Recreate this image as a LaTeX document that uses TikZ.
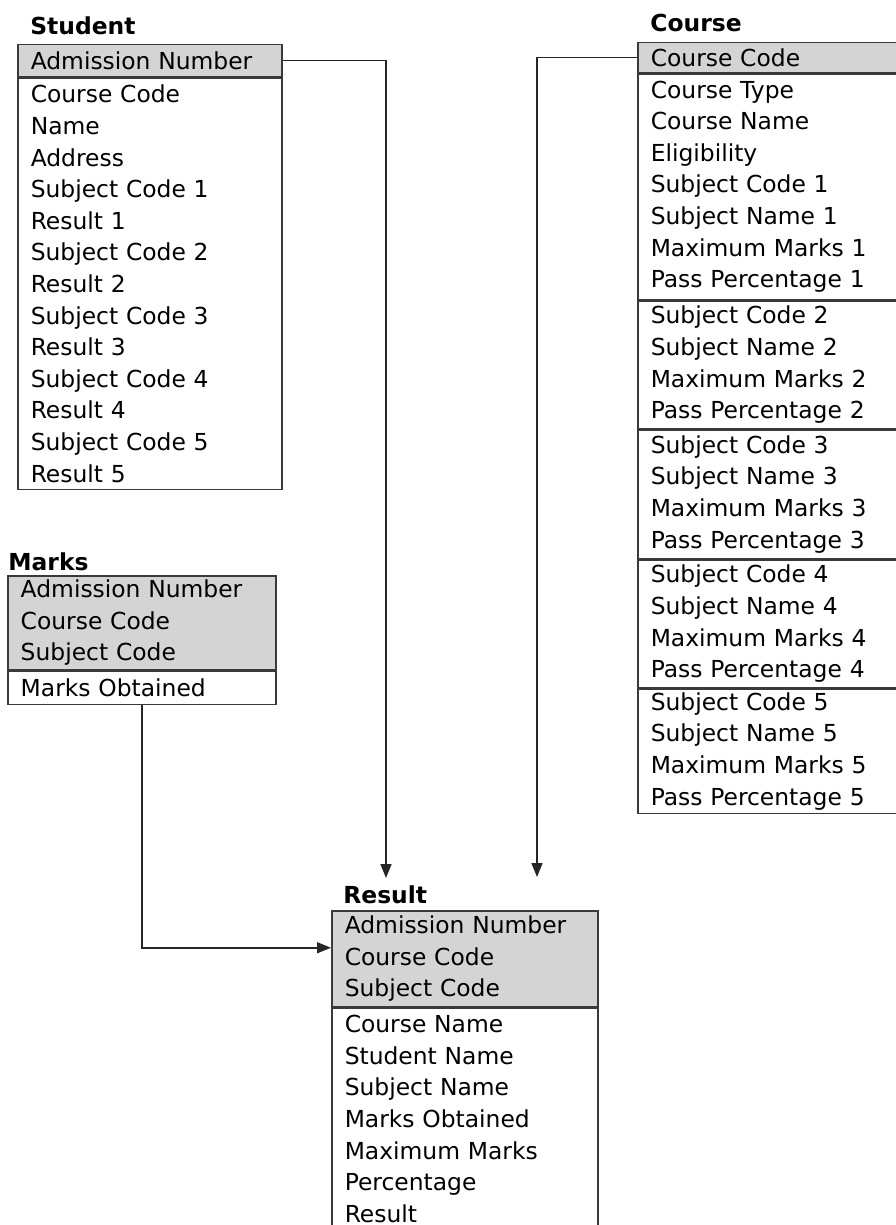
\documentclass[tikz,border=0pt]{standalone}
\usepackage{fontspec}
\setmainfont{DejaVu Sans}
\usetikzlibrary{arrows.meta}
\definecolor{keygray}{HTML}{D4D4D4}
\definecolor{edgegray}{HTML}{3A3A3A}
\tikzset{
	tablenode/.style = {
		align=left,
		inner xsep=6.5pt,
		inner ysep=0pt,
		anchor=north west,
		draw=edgegray,
		line width=0.75pt,
		font=\fontsize{11.7pt}{15.8pt}\selectfont
	},
	node_key/.style = {
		tablenode,
		fill=keygray
	},
	node_field/.style = {
		tablenode,
		fill=white
	},
	node_title/.style = {
		anchor=base west,
		inner sep=0pt,
		font=\fontsize{11.7pt}{14pt}\selectfont\bfseries
	},
	link/.style = {
		->,
		draw=black!85,
		line width=0.75pt
	},
}

\begin{document}
\begin{tikzpicture}[x=0.5pt,y=-0.5pt,>={Triangle[length=7pt,width=5.5pt]}]
\useasboundingbox (0,0) rectangle (895,1225);

% Student
\node [node_title] (stu_title) at (30,35) {Student};
\node [node_key, text width=119pt, minimum height=16pt] (stu_key) at (17,44) {Admission Number};
\node [node_field, text width=119pt, minimum height=205.5pt] (stu_body) at (stu_key.south west)
	{Course Code\\Name\\Address\\Subject Code 1\\Result 1\\Subject Code 2\\Result 2\\Subject Code 3\\Result 3\\Subject Code 4\\Result 4\\Subject Code 5\\Result 5};

% Course
\node [node_title] (cou_title) at (650,32) {Course};
\node [node_key, text width=122pt, minimum height=15pt] (cou_key) at (637,42) {Course Code};
\node [node_field, text width=122pt, minimum height=112.5pt] (cou_sub1) at (cou_key.south west)
	{Course Type\\Course Name\\Eligibility\\Subject Code 1\\Subject Name 1\\Maximum Marks 1\\Pass Percentage 1};
\node [node_field, text width=122pt, minimum height=64pt] (cou_sub2) at (cou_sub1.south west)
	{Subject Code 2\\Subject Name 2\\Maximum Marks 2\\Pass Percentage 2};
\node [node_field, text width=122pt, minimum height=64pt] (cou_sub3) at (cou_sub2.south west)
	{Subject Code 3\\Subject Name 3\\Maximum Marks 3\\Pass Percentage 3};
\node [node_field, text width=122pt, minimum height=64pt] (cou_sub4) at (cou_sub3.south west)
	{Subject Code 4\\Subject Name 4\\Maximum Marks 4\\Pass Percentage 4};
\node [node_field, text width=122pt, minimum height=62pt] (cou_sub5) at (cou_sub4.south west)
	{Subject Code 5\\Subject Name 5\\Maximum Marks 5\\Pass Percentage 5};

% Marks
\node [node_title] (mar_title) at (8,570) {Marks};
\node [node_key, text width=121pt, minimum height=47pt] (mar_key) at (7,575)
	{Admission Number\\Course Code\\Subject Code};
\node [node_field, text width=121pt, minimum height=16.5pt] (mar_body) at (mar_key.south west) {Marks Obtained};

% Result
\node [node_title] (res_title) at (343,903) {Result};
\node [node_key, text width=120pt, minimum height=48pt] (res_key) at (331,910)
	{Admission Number\\Course Code\\Subject Code};
\node [node_field, text width=120pt, minimum height=110.8pt] (res_body) at (res_key.south west)
	{Course Name\\Student Name\\Subject Name\\Marks Obtained\\Maximum Marks\\Percentage\\Result};

% links
\coordinate (stu_end) at (386,878);
\coordinate (cou_end) at (537,877);
\draw [link] (stu_key.east) -| (stu_end);
\draw [link] (cou_key.west) -| (cou_end);
\draw [link] (mar_body.south) |- ([yshift=5.5pt]res_key.west);
\end{tikzpicture}
\end{document}
